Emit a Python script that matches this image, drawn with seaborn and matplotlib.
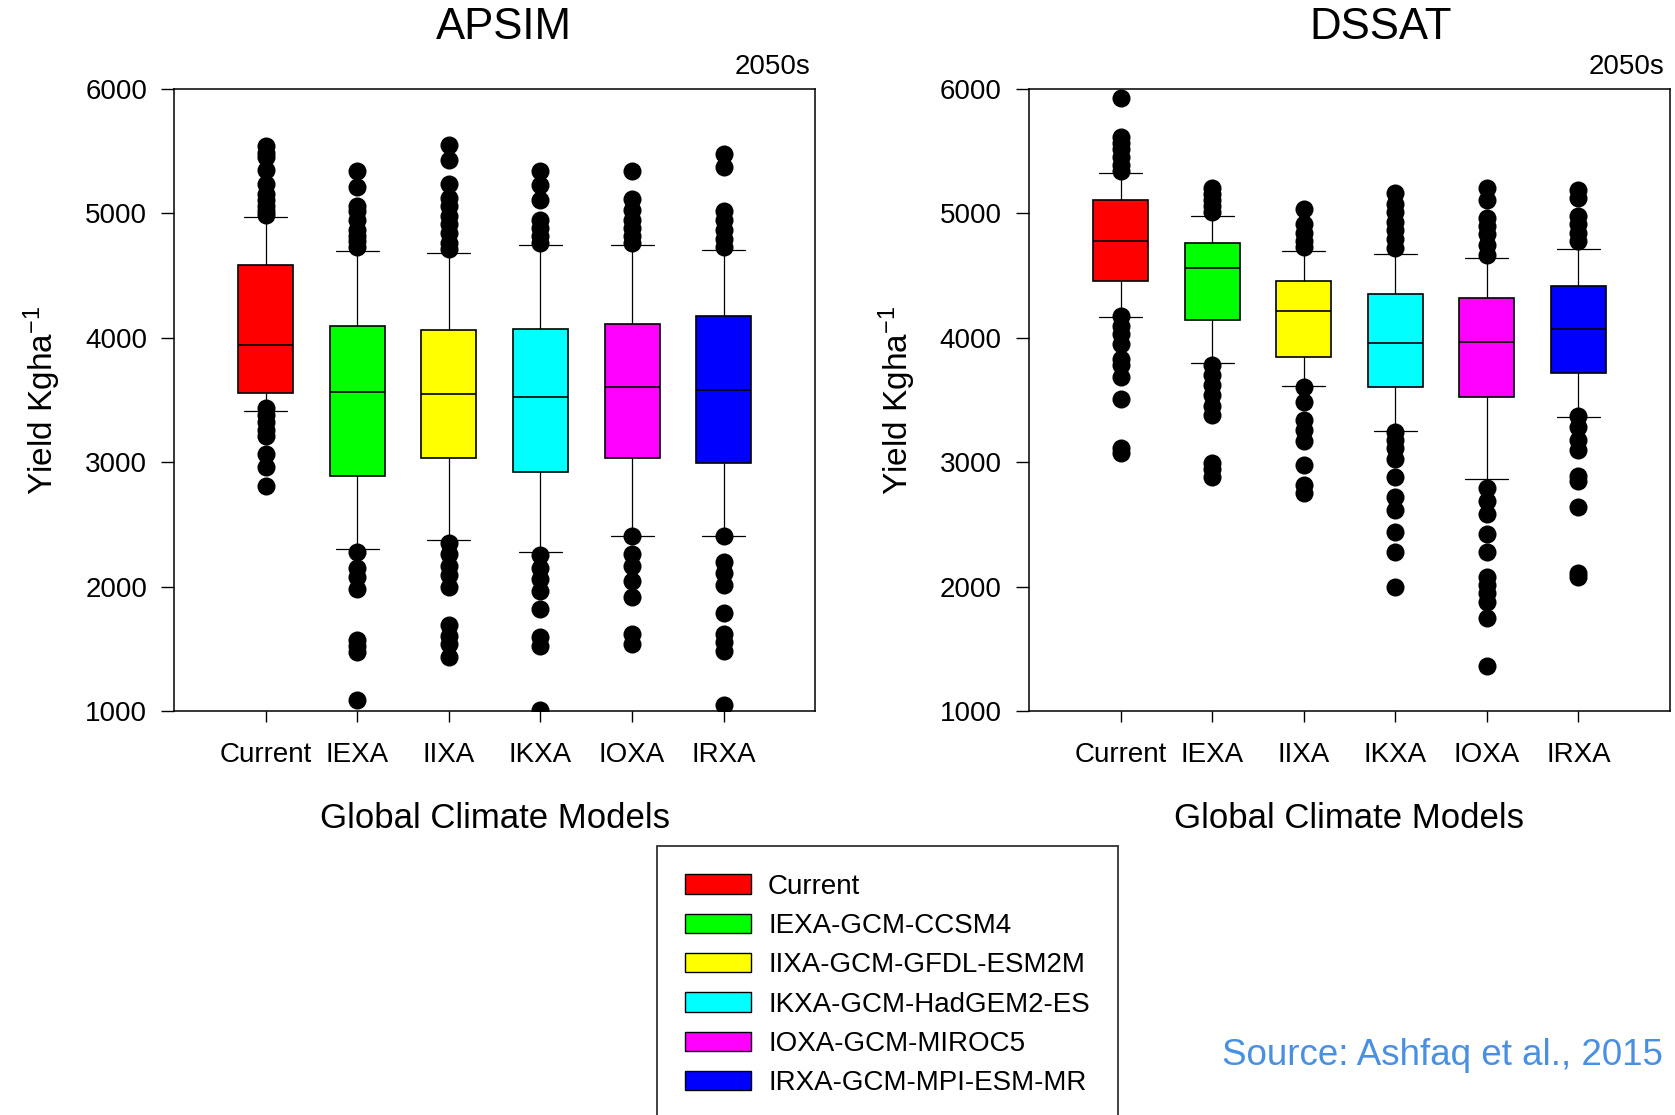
import numpy as np
import pandas as pd
import seaborn as sns
import matplotlib.pyplot as plt
from matplotlib.patches import Patch

models = ['Current', 'IEXA', 'IIXA', 'IKXA', 'IOXA', 'IRXA']
legend_labels = ['Current', 'IEXA-GCM-CCSM4', 'IIXA-GCM-GFDL-ESM2M',
                 'IKXA-GCM-HadGEM2-ES', 'IOXA-GCM-MIROC5', 'IRXA-GCM-MPI-ESM-MR']
colors = ['#FF0000', '#00FF00', '#FFFF00', '#00FFFF', '#FF00FF', '#0000FF']

# APSIM (2050s) box summaries, yield kg/ha
apsim_lo = [3410, 2300, 2372, 2280, 2411, 2405]
apsim_q1 = [3557, 2886, 3037, 2925, 3037, 2997]
apsim_med = [3944, 3561, 3547, 3521, 3603, 3580]
apsim_q3 = [4589, 4098, 4065, 4075, 4114, 4176]
apsim_hi = [4975, 4700, 4684, 4746, 4746, 4707]
apsim_outliers = [
    [5545, 5486, 5453, 5348, 5240, 5160, 5110, 5060, 5020, 4990,
     3440, 3380, 3320, 3260, 3210, 3063, 2965, 2807],
    [5345, 5214, 5060, 5018, 4946, 4864, 4820, 4780, 4730,
     2277, 2146, 2080, 1982, 1573, 1524, 1475, 1088],
    [5551, 5430, 5234, 5126, 5060, 4978, 4913, 4847, 4766, 4716,
     2349, 2260, 2162, 2097, 1999, 1688, 1606, 1540, 1436],
    [5339, 5231, 5109, 4946, 4880, 4815, 4766,
     2251, 2146, 2064, 1966, 1818, 1599, 1524, 1010],
    [5339, 5119, 5027, 4946, 4880, 4815, 4766,
     2408, 2260, 2162, 2048, 1917, 1622, 1540],
    [5476, 5371, 5018, 4946, 4864, 4798, 4733,
     2408, 2195, 2113, 2015, 1786, 1622, 1557, 1482, 1049],
]

# DSSAT (2050s) box summaries, yield kg/ha
dssat_lo = [4166, 3800, 3610, 3249, 2866, 3364]
dssat_q1 = [4458, 4147, 3846, 3603, 3528, 3714]
dssat_med = [4782, 4559, 4215, 3957, 3970, 4075]
dssat_q3 = [5106, 4766, 4455, 4353, 4320, 4415]
dssat_hi = [5325, 4982, 4700, 4674, 4644, 4716]
dssat_outliers = [
    [5928, 5617, 5568, 5519, 5453, 5388, 5339,
     4176, 4094, 4028, 3947, 3832, 3783, 3685, 3512, 3112, 3073],
    [5201, 5158, 5109, 5060, 5011,
     3783, 3701, 3619, 3537, 3455, 3380, 2997, 2942, 2883],
    [5034, 4913, 4847, 4782, 4733,
     3603, 3488, 3341, 3259, 3171, 2981, 2817, 2752],
    [5168, 5077, 5011, 4929, 4864, 4798, 4723,
     3243, 3178, 3112, 3030, 2883, 2719, 2620, 2441, 2277, 1999],
    [5201, 5109, 4962, 4897, 4831, 4749, 4667,
     2791, 2686, 2588, 2424, 2277, 2080, 2015, 1950, 1874, 1746, 1360],
    [5191, 5126, 4978, 4913, 4847, 4782,
     3374, 3282, 3178, 3096, 2889, 2850, 2644, 2113, 2080],
]

sns.set_style("ticks")
plt.rcParams['font.family'] = ['Liberation Sans', 'DejaVu Sans']
plt.rcParams['mathtext.fontset'] = 'custom'
plt.rcParams['mathtext.rm'] = 'Liberation Sans'
plt.rcParams['mathtext.it'] = 'Liberation Sans'
plt.rcParams['text.color'] = 'black'
plt.rcParams['axes.labelcolor'] = 'black'
plt.rcParams['xtick.color'] = 'black'
plt.rcParams['ytick.color'] = 'black'


def draw_panel(ax, lo, q1, med, q3, hi, outliers):
    rows = []
    for i, m in enumerate(models):
        for v in (lo[i], q1[i], med[i], q3[i], hi[i]):
            rows.append({'model': m, 'value': v})
    box_df = pd.DataFrame(rows)
    pts = []
    for i, m in enumerate(models):
        for v in outliers[i]:
            pts.append({'model': m, 'value': v})
    pt_df = pd.DataFrame(pts)

    sns.boxplot(x='model', y='value', data=box_df, hue='model', order=models,
                hue_order=models, palette=colors, whis=(0, 100), width=0.6,
                showfliers=False, linecolor='black', linewidth=1.2,
                capwidths=0.47, legend=False, ax=ax, saturation=1,
                whiskerprops={'linewidth': 0.9}, capprops={'linewidth': 0.9})
    sns.stripplot(x='model', y='value', data=pt_df, order=models, jitter=False,
                  color='black', size=13, linewidth=0, ax=ax, zorder=5)

    ax.set_xlim(-1, 6)
    ax.set_ylim(1000, 6000)
    ax.set_yticks([1000, 2000, 3000, 4000, 5000, 6000])
    ax.tick_params(axis='y', direction='out', length=9.5, width=1, pad=10,
                   labelsize=20, right=False)
    ax.tick_params(axis='x', direction='out', length=8, width=1, pad=14,
                   labelsize=20, top=False)
    for s in ax.spines.values():
        s.set_linewidth(1.1)
        s.set_color('black')
    ax.set_xlabel('Global Climate Models', fontsize=25)
    ax.xaxis.set_label_coords(0.5, -0.147)
    ax.set_ylabel(r'Yield Kgha$^{\mathregular{-1}}$', fontsize=24)
    ax.yaxis.set_label_coords(-0.173, 0.5)
    ax.text(0.992, 1.015, '2050s', transform=ax.transAxes, ha='right',
            va='bottom', fontsize=20)


fig = plt.figure(figsize=(16.75, 11.15), dpi=100)
ax1 = fig.add_axes([0.104, 0.3623, 0.3827, 0.5578])
ax2 = fig.add_axes([0.6143, 0.3623, 0.3827, 0.5578])

draw_panel(ax1, apsim_lo, apsim_q1, apsim_med, apsim_q3, apsim_hi, apsim_outliers)
draw_panel(ax2, dssat_lo, dssat_q1, dssat_med, dssat_q3, dssat_hi, dssat_outliers)

fig.text(0.3009, 0.9755, 'APSIM', ha='center', va='center', fontsize=31.5)
fig.text(0.824, 0.9755, 'DSSAT', ha='center', va='center', fontsize=31.5)

handles = [Patch(facecolor=c, edgecolor='black', linewidth=1) for c in colors]
leg = fig.legend(handles, legend_labels, loc='upper left',
                 bbox_to_anchor=(657 / 1675, 1 - 846 / 1115),
                 borderaxespad=0, frameon=True, fancybox=False, fontsize=20,
                 handlelength=2.4, handleheight=0.68, handletextpad=0.6,
                 labelspacing=0.48, borderpad=1.0)
leg.get_frame().set_edgecolor('black')
leg.get_frame().set_linewidth(1.3)

fig.text(0.993, 0.0538, 'Source: Ashfaq et al., 2015', ha='right', va='center',
         fontsize=26.5, color='#4A90E2')

fig.savefig('out.png', dpi=100)
